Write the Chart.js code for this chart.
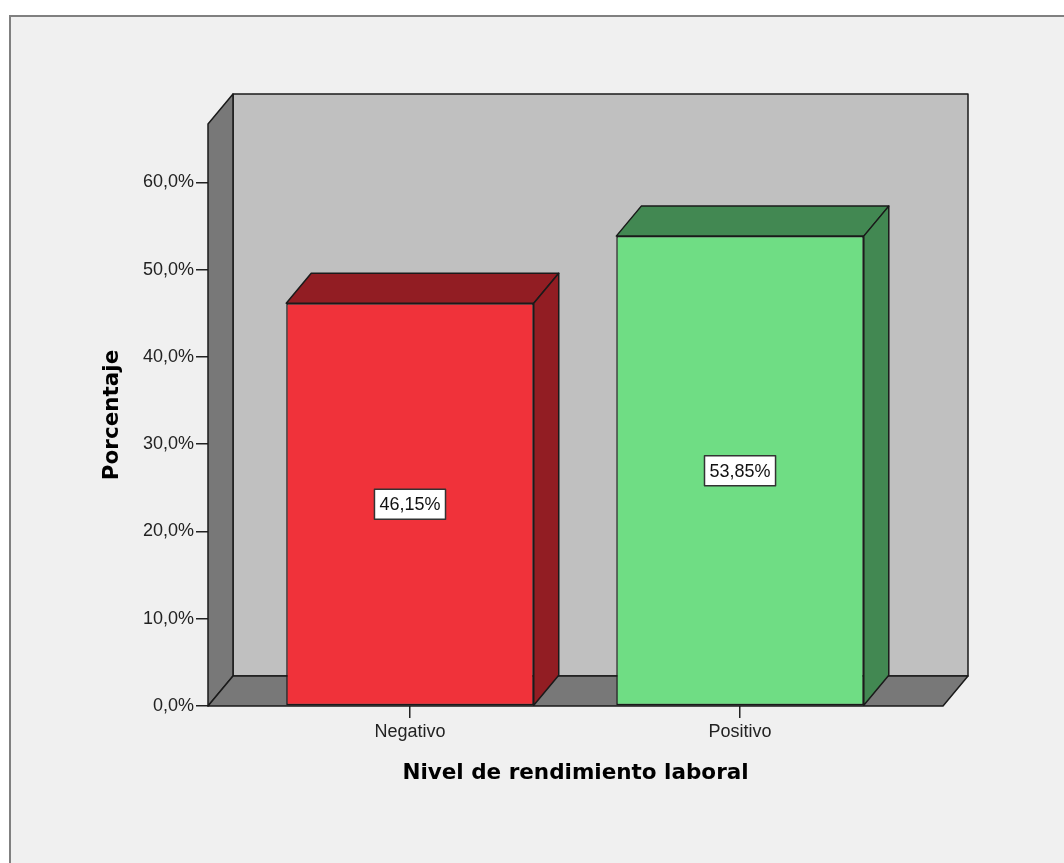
<!DOCTYPE html>
<html>
<head>
<meta charset="utf-8">
<script src="https://cdn.jsdelivr.net/npm/chart.js@4.4.0/dist/chart.umd.min.js"></script>
<style>
  html, body { margin: 0; padding: 0; background: #fff; }
  #wrap { width: 1064px; height: 863px; }
</style>
</head>
<body>
<div id="wrap"><canvas id="rendimientoChart"></canvas></div>
<script>
const categorias = ['Negativo', 'Positivo'];
const porcentajes = [46.15, 53.85];
const ticksY = [0, 10, 20, 30, 40, 50, 60];

const coloresFrente = ['#f0323a', '#6fdd84'];
const coloresSombra = ['#921d23', '#428852'];

// profundidad del efecto 3D en pixeles
const PROF_X = 25;
const PROF_Y = -30;

const fmtTick = v => v.toFixed(1).replace('.', ',') + '%';
const fmtValor = v => v.toFixed(2).replace('.', ',') + '%';

function poligono(ctx, pts, relleno) {
  ctx.beginPath();
  ctx.moveTo(pts[0][0], pts[0][1]);
  for (let i = 1; i < pts.length; i++) ctx.lineTo(pts[i][0], pts[i][1]);
  ctx.closePath();
  ctx.fillStyle = relleno;
  ctx.fill();
  ctx.stroke();
}

const efecto3D = {
  id: 'efecto3D',
  beforeDraw(chart) {
    const { ctx, width, height } = chart;
    ctx.save();
    ctx.fillStyle = '#ffffff';
    ctx.fillRect(0, 0, width, height);
    ctx.fillStyle = '#f0f0f0';
    ctx.fillRect(10, 16, width, height);
    ctx.strokeStyle = '#808080';
    ctx.lineWidth = 2;
    ctx.beginPath();
    ctx.moveTo(10, height);
    ctx.lineTo(10, 16);
    ctx.lineTo(width, 16);
    ctx.stroke();
    ctx.restore();
  },
  beforeDatasetsDraw(chart) {
    const { ctx } = chart;
    const { left, right, top, bottom } = chart.chartArea;
    ctx.save();
    ctx.strokeStyle = '#1a1a1a';
    ctx.lineWidth = 1.5;
    ctx.lineJoin = 'round';
    // pared del fondo
    poligono(ctx, [
      [left + PROF_X, top + PROF_Y], [right + PROF_X, top + PROF_Y],
      [right + PROF_X, bottom + PROF_Y], [left + PROF_X, bottom + PROF_Y]
    ], '#c0c0c0');
    // pared izquierda
    poligono(ctx, [
      [left, top], [left + PROF_X, top + PROF_Y],
      [left + PROF_X, bottom + PROF_Y], [left, bottom]
    ], '#787878');
    // piso
    poligono(ctx, [
      [left, bottom], [left + PROF_X, bottom + PROF_Y],
      [right + PROF_X, bottom + PROF_Y], [right, bottom]
    ], '#787878');
    ctx.restore();
  },
  afterDatasetsDraw(chart) {
    const { ctx } = chart;
    const meta = chart.getDatasetMeta(0);
    ctx.save();
    ctx.strokeStyle = '#1a1a1a';
    ctx.lineWidth = 1.5;
    ctx.lineJoin = 'round';
    meta.data.forEach((bar, i) => {
      const l = bar.x - bar.width / 2;
      const r = bar.x + bar.width / 2;
      const y = bar.y;
      const b = bar.base;
      // cara superior
      poligono(ctx, [[l, y], [l + PROF_X, y + PROF_Y], [r + PROF_X, y + PROF_Y], [r, y]], coloresSombra[i]);
      // cara lateral
      poligono(ctx, [[r, y], [r + PROF_X, y + PROF_Y], [r + PROF_X, b + PROF_Y], [r, b]], coloresSombra[i]);
    });

    // etiquetas de valor
    ctx.font = '18px "Liberation Sans", Arial, sans-serif';
    ctx.textAlign = 'center';
    ctx.textBaseline = 'middle';
    meta.data.forEach((bar, i) => {
      const texto = fmtValor(porcentajes[i]);
      const cx = bar.x;
      const cy = (bar.y + bar.base) / 2;
      const w = ctx.measureText(texto).width + 10;
      const h = 30;
      ctx.fillStyle = '#ffffff';
      ctx.fillRect(cx - w / 2, cy - h / 2, w, h);
      ctx.strokeStyle = '#333333';
      ctx.lineWidth = 1.5;
      ctx.strokeRect(cx - w / 2, cy - h / 2, w, h);
      ctx.fillStyle = '#111111';
      ctx.fillText(texto, cx, cy + 1);
    });
    ctx.restore();
  }
};

const ctx = document.getElementById('rendimientoChart');

new Chart(ctx, {
  type: 'bar',
  data: {
    datasets: [{
      label: 'Porcentaje',
      data: categorias.map((c, i) => ({ x: i, y: porcentajes[i] })),
      backgroundColor: coloresFrente,
      borderColor: '#1a1a1a',
      borderWidth: 1.5,
      borderSkipped: false,
      categoryPercentage: 1,
      barPercentage: 0.75
    }]
  },
  options: {
    responsive: true,
    maintainAspectRatio: false,
    animation: false,
    layout: { padding: { left: 0, top: 124, right: 121, bottom: 0 } },
    plugins: {
      legend: { display: false },
      tooltip: { enabled: false }
    },
    scales: {
      x: {
        type: 'linear',
        min: -0.612,
        max: 1.615,
        offset: false,
        afterBuildTicks: s => { s.ticks = categorias.map((c, i) => ({ value: i })); },
        afterFit: s => { s.height = 157; },
        border: { display: false },
        grid: { offset: false, drawOnChartArea: false, drawTicks: true, tickLength: 12, color: '#222', lineWidth: 1.5 },
        ticks: {
          callback: v => categorias[v],
          color: '#222',
          padding: 3,
          font: { family: '"Liberation Sans", Arial, sans-serif', size: 18 }
        },
        title: {
          display: true,
          text: 'Nivel de rendimiento laboral',
          color: '#000',
          padding: { top: 0, bottom: 77 },
          font: { family: '"DejaVu Sans", Verdana, sans-serif', size: 21.5, weight: 'bold' }
        }
      },
      y: {
        min: 0,
        max: 66.7,
        afterBuildTicks: s => { s.ticks = ticksY.map(v => ({ value: v })); },
        afterFit: s => { s.width = 208; },
        border: { display: false },
        grid: { drawOnChartArea: false, drawTicks: true, tickLength: 12, color: '#222', lineWidth: 1.5 },
        ticks: {
          callback: v => fmtTick(v),
          color: '#222',
          padding: 2,
          font: { family: '"Liberation Sans", Arial, sans-serif', size: 18 }
        },
        title: {
          display: true,
          text: 'Porcentaje',
          color: '#000',
          padding: { top: 100, bottom: 0 },
          font: { family: '"DejaVu Sans", Verdana, sans-serif', size: 21.5, weight: 'bold' }
        }
      }
    }
  },
  plugins: [efecto3D]
});
</script>
</body>
</html>
